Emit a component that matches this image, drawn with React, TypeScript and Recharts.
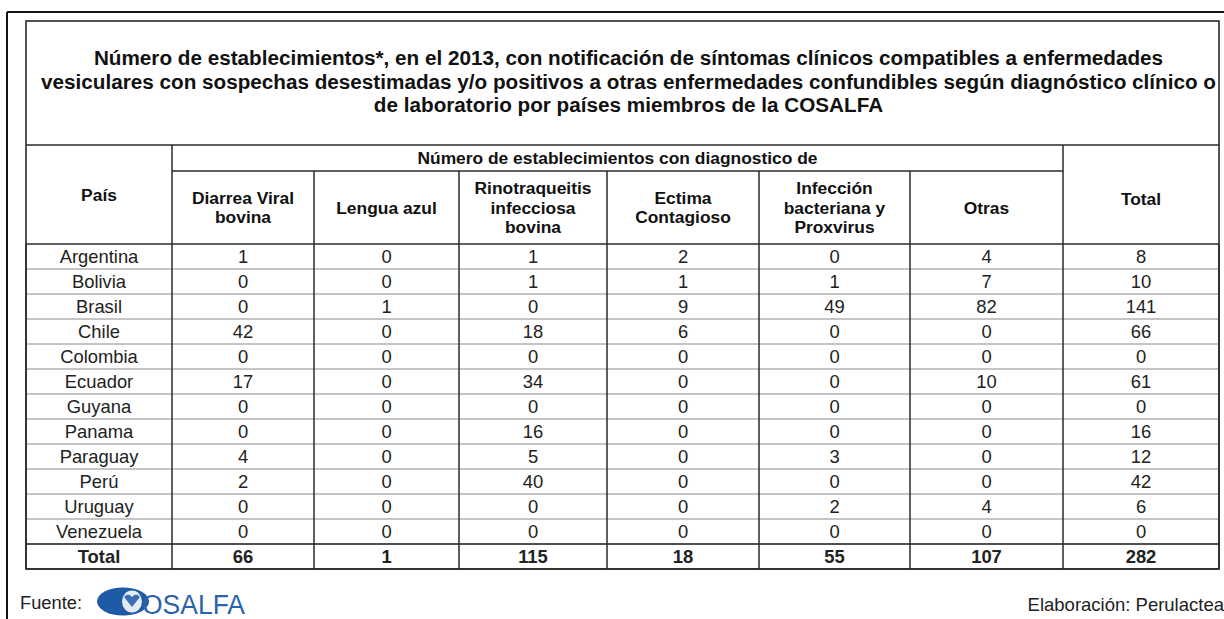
import { ComposedChart, Bar, XAxis, YAxis, Customized } from "recharts";

const countries = [
  "Argentina", "Bolivia", "Brasil", "Chile", "Colombia", "Ecuador",
  "Guyana", "Panama", "Paraguay", "Perú", "Uruguay", "Venezuela",
];
const diarreaViral = [1, 0, 0, 42, 0, 17, 0, 0, 4, 2, 0, 0];
const lenguaAzul = [0, 0, 1, 0, 0, 0, 0, 0, 0, 0, 0, 0];
const rinotraqueitis = [1, 1, 0, 18, 0, 34, 0, 16, 5, 40, 0, 0];
const ectima = [2, 1, 9, 6, 0, 0, 0, 0, 0, 0, 0, 0];
const infeccion = [0, 1, 49, 0, 0, 0, 0, 0, 3, 0, 2, 0];
const otras = [4, 7, 82, 0, 0, 10, 0, 0, 0, 0, 4, 0];
const totals = [8, 10, 141, 66, 0, 61, 0, 16, 12, 42, 6, 0];
// fila "Total" tal como aparece en la tabla
const columnTotals = [66, 1, 115, 18, 55, 107, 282];

const titleLines = [
  "Número de establecimientos*, en el 2013, con notificación de síntomas clínicos compatibles a enfermedades",
  "vesiculares con sospechas desestimadas y/o positivos a otras enfermedades confundibles según diagnóstico clínico o",
  "de laboratorio por países miembros de la COSALFA",
];
const groupHeader = "Número de establecimientos con diagnostico de";
const subHeaders = [
  ["Diarrea Viral", "bovina"],
  ["Lengua azul"],
  ["Rinotraqueitis", "infecciosa", "bovina"],
  ["Ectima", "Contagioso"],
  ["Infección", "bacteriana y", "Proxvirus"],
  ["Otras"],
];

const rows = [
  ...countries.map((pais, i) => ({
    pais,
    values: [diarreaViral[i], lenguaAzul[i], rinotraqueitis[i], ectima[i], infeccion[i], otras[i], totals[i]],
    bold: false,
  })),
  { pais: "Total", values: columnTotals, bold: true },
];

// layout
const W = 1224;
const H = 619;
const colEdges = [26, 172, 314, 459, 607, 759, 910, 1063, 1219];
const tableTop = 21;
const titleBottom = 145;
const groupBottom = 171;
const headerBottom = 244;
const tableBottom = 569;
const FONT = "'Liberation Sans', Arial, Helvetica, sans-serif";
const DARK = "#2a2a2a";
const ROWLINE = "#8a8a8a";

const center = (i: number) => (colEdges[i] + colEdges[i + 1]) / 2;

function RowShape(props: any) {
  const { y, height, payload, index } = props;
  const isLast = index === rows.length - 1;
  const base = y + height / 2 + 6.5;
  return (
    <g>
      <line
        x1={colEdges[0]}
        x2={colEdges[colEdges.length - 1]}
        y1={y + height}
        y2={y + height}
        stroke={isLast ? DARK : ROWLINE}
        strokeWidth={isLast ? 1.6 : 1}
      />
      {isLast && (
        <line x1={colEdges[0]} x2={colEdges[8]} y1={y} y2={y} stroke={DARK} strokeWidth={1.4} />
      )}
      {colEdges.map((x, i) => (
        <line key={i} x1={x} x2={x} y1={y} y2={y + height} stroke={DARK} strokeWidth={1.5} />
      ))}
      <text
        x={center(0)}
        y={base}
        textAnchor="middle"
        fontFamily={FONT}
        fontSize={18.4}
        fontWeight={payload.bold ? 700 : 400}
        fill="#222"
      >
        {payload.pais}
      </text>
      {payload.values.map((v: number, i: number) => (
        <text
          key={i}
          x={center(i + 1)}
          y={base}
          textAnchor="middle"
          fontFamily={FONT}
          fontSize={18.4}
          fontWeight={payload.bold ? 700 : 400}
          fill="#222"
        >
          {v}
        </text>
      ))}
    </g>
  );
}

function Frame() {
  const right = colEdges[8];
  const left = colEdges[0];
  return (
    <g fontFamily={FONT}>
      {/* marco exterior */}
      <line x1={7} x2={W} y1={12} y2={12} stroke="#111" strokeWidth={2} />
      <line x1={7} x2={7} y1={12} y2={H} stroke="#111" strokeWidth={2} />
      {/* caja del título */}
      <rect x={left} y={tableTop} width={right - left} height={tableBottom - tableTop} fill="none" stroke={DARK} strokeWidth={1.6} />
      <line x1={left} x2={right} y1={titleBottom} y2={titleBottom} stroke={DARK} strokeWidth={1.5} />
      {titleLines.map((t, i) => (
        <text key={i} x={(left + right) / 2 + 6} y={65 + i * 23.5} textAnchor="middle" fontSize={20.7} fontWeight={700} fill="#111">
          {t}
        </text>
      ))}
      {/* cabecera */}
      <line x1={colEdges[1]} x2={colEdges[7]} y1={groupBottom} y2={groupBottom} stroke={DARK} strokeWidth={1.5} />
      <line x1={left} x2={right} y1={headerBottom} y2={headerBottom} stroke={DARK} strokeWidth={1.5} />
      {[1, 7].map((i) => (
        <line key={i} x1={colEdges[i]} x2={colEdges[i]} y1={titleBottom} y2={headerBottom} stroke={DARK} strokeWidth={1.5} />
      ))}
      {[2, 3, 4, 5, 6].map((i) => (
        <line key={i} x1={colEdges[i]} x2={colEdges[i]} y1={groupBottom} y2={headerBottom} stroke={DARK} strokeWidth={1.5} />
      ))}
      <text x={(colEdges[1] + colEdges[7]) / 2} y={164} textAnchor="middle" fontSize={17.4} fontWeight={700} fill="#111">
        {groupHeader}
      </text>
      <text x={center(0)} y={201} textAnchor="middle" fontSize={17.4} fontWeight={700} fill="#111">
        País
      </text>
      <text x={center(7)} y={205} textAnchor="middle" fontSize={17.4} fontWeight={700} fill="#111">
        Total
      </text>
      {subHeaders.map((lines, c) =>
        lines.map((t, k) => (
          <text
            key={`${c}-${k}`}
            x={center(c + 1)}
            y={207.5 + (k - (lines.length - 1) / 2) * 19.5 + 6}
            textAnchor="middle"
            fontSize={17.4}
            fontWeight={700}
            fill="#111"
          >
            {t}
          </text>
        ))
      )}
      {/* pie */}
      <text x={20} y={609} fontSize={18.3} fill="#222">
        Fuente:
      </text>
      <ellipse cx={123} cy={601.5} rx={26} ry={14} fill="#1f5aa6" />
      <ellipse cx={132} cy={601.5} rx={10} ry={11} fill="#e3ebf5" />
      <path d="M124 597 q4 -5 8 0 q4 -5 8 0 l-8 10 z" fill="#3a6fb5" />
      <text x={142} y={614} fontSize={27} fill="#2b62ad" textLength={103} lengthAdjust="spacingAndGlyphs">
        OSALFA
      </text>
      <text x={W} y={611} textAnchor="end" fontSize={18.5} fill="#222">
        Elaboración: Perulactea
      </text>
    </g>
  );
}

export default function App() {
  return (
    <div style={{ position: "absolute", left: 0, top: 0, width: W, height: H, background: "#fff" }}>
      <ComposedChart
        width={W}
        height={H}
        data={rows}
        layout="vertical"
        margin={{ top: headerBottom, bottom: H - tableBottom, left: colEdges[0], right: W - colEdges[8] }}
        barCategoryGap={0}
        barGap={0}
      >
        <XAxis type="number" domain={[0, 1]} hide />
        <YAxis type="category" dataKey="pais" hide />
        <Customized component={Frame} />
        <Bar dataKey={() => 1} shape={RowShape} isAnimationActive={false} />
      </ComposedChart>
    </div>
  );
}
